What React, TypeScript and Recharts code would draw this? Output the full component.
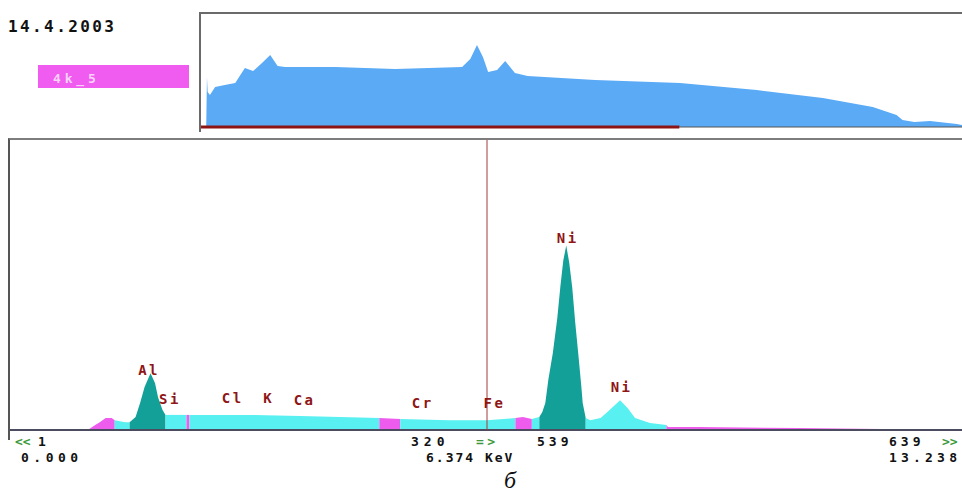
import { Area, ComposedChart, ReferenceDot, ReferenceLine, XAxis, YAxis } from "recharts";

// main window: channels 1..639, counts
const MAIN_CHANNELS = [
  1, 53, 58, 61, 65, 69, 71, 78, 81, 85, 88, 91, 95, 98, 100, 103, 105, 119, 121, 162,
  195, 248, 262, 295, 320, 339, 344, 350, 355, 357, 359, 361, 364, 367, 369, 371, 373, 375, 377, 379,
  381, 383, 384, 386, 389, 396, 402, 409, 414, 419, 429, 440, 441, 462, 529, 596, 639,
];
const MAIN_COUNTS = [
  0, 0, 17, 27, 41, 41, 34, 27, 27, 45, 93, 148, 196, 161, 113, 69, 52, 52, 52, 52,
  48, 41, 38, 34, 34, 41, 45, 38, 45, 62, 93, 172, 265, 385, 491, 584, 636, 577, 491, 371,
  265, 155, 93, 41, 34, 41, 69, 103, 76, 41, 24, 17, 10, 10, 7, 3, 3,
];

// colour windows along the spectrum (edges in channels)
const WINDOW_EDGES = [53, 71, 81, 105, 119, 121, 248, 262, 339, 350, 355, 386, 440, 639];
const WINDOW_KINDS = [
  "marker", "background", "peak", "background", "marker", "background", "marker",
  "background", "marker", "background", "peak", "background", "marker",
];

const ELEMENTS = ["Al", "Si", "Cl", "K", "Ca", "Cr", "Fe", "Ni", "Ni"];
const ELEMENT_CHANNELS = [94, 108, 150, 174, 198, 277, 325, 374, 410];
const ELEMENT_LEVELS = [207, 107, 110, 110, 103, 93, 93, 662, 148];

const CURSOR_CHANNEL = 320;

// overview strip: channels 1..1024
const OVERVIEW_CHANNELS = [
  1, 8, 9, 10, 13, 20, 33, 47, 60, 71, 83, 94, 104, 114, 181, 262, 352, 363, 372, 380,
  387, 399, 410, 423, 440, 531, 645, 748, 837, 904, 936, 944, 960, 981, 1017, 1024,
];
const OVERVIEW_COUNTS = [
  0, 0, 50, 35, 32, 40, 42, 44, 59, 56, 64, 72, 61, 60, 60, 58, 60, 68, 82, 70,
  55, 57, 66, 54, 51, 47, 44, 37, 29, 20, 12, 7, 5, 6, 3, 2,
];
const VIEW_END = 644;

const KIND_COLORS: Record<string, string> = {
  background: "#58f0f0",
  peak: "#12a098",
  marker: "#ee5cee",
};

const MONO = "'DejaVu Sans Mono', monospace";

const mainData = MAIN_CHANNELS.map((ch, i) => {
  const row: Record<string, number | null> = { ch };
  WINDOW_KINDS.forEach((_, j) => {
    row[`w${j}`] = ch >= WINDOW_EDGES[j] && ch <= WINDOW_EDGES[j + 1] ? MAIN_COUNTS[i] : null;
  });
  return row;
});

const overviewData = OVERVIEW_CHANNELS.map((ch, i) => ({ ch, count: OVERVIEW_COUNTS[i] }));

function Txt({ x, y, text, size = 13, color = "#111", spacing = 3.8 }: {
  x: number; y: number; text: string; size?: number; color?: string; spacing?: number;
}) {
  return (
    <div
      style={{
        position: "absolute", left: x, top: y, fontFamily: MONO, fontWeight: "bold",
        fontSize: size, lineHeight: `${size - 2}px`, letterSpacing: spacing, color, whiteSpace: "pre",
      }}
    >
      {text}
    </div>
  );
}

export default function App() {
  return (
    <div style={{ position: "fixed", left: 0, top: 0, width: 962, height: 493, overflow: "hidden", background: "#fff" }}>
      <Txt x={8} y={20} text="14.4.2003" size={16} spacing={2.4} />
      <div style={{ position: "absolute", left: 38, top: 65, width: 151, height: 23, background: "#ef5cef" }} />
      <Txt x={53} y={73} text="4k_5" size={13} color="#fbd0fb" spacing={3.8} />

      <div style={{ position: "absolute", left: 199, top: 12, borderLeft: "2px solid #6a6a6a", borderTop: "2px solid #6a6a6a" }}>
        <ComposedChart width={761} height={118} data={overviewData} margin={{ top: 0, right: 0, bottom: 5, left: 0 }}>
          <XAxis dataKey="ch" type="number" domain={[1, 1024]} hide allowDataOverflow />
          <YAxis type="number" domain={[0, 113]} hide allowDataOverflow />
          <Area dataKey="count" type="linear" stroke="none" fill="#5aaaf6" fillOpacity={1} isAnimationActive={false} dot={false} activeDot={false} />
          <ReferenceLine y={0} stroke="#555" strokeWidth={1} />
          <ReferenceLine segment={[{ x: 1, y: 0 }, { x: VIEW_END, y: 0 }]} stroke="#8c1414" strokeWidth={3} />
        </ComposedChart>
      </div>

      <div style={{ position: "absolute", left: 8, top: 138, borderLeft: "2px solid #555", borderTop: "2px solid #7d7d7d" }}>
        <ComposedChart width={954} height={300} data={mainData} margin={{ top: 0, right: 0, bottom: 10, left: 0 }}>
          <XAxis dataKey="ch" type="number" domain={[1, 639]} hide allowDataOverflow />
          <YAxis type="number" domain={[0, 1000]} hide allowDataOverflow />
          {WINDOW_KINDS.map((kind, j) => (
            <Area
              key={j}
              dataKey={`w${j}`}
              type="linear"
              stroke="none"
              fill={KIND_COLORS[kind]}
              fillOpacity={1}
              isAnimationActive={false}
              dot={false}
              activeDot={false}
            />
          ))}
          <ReferenceLine y={0} stroke="#4c4c60" strokeWidth={2} />
          <ReferenceLine x={CURSOR_CHANNEL} stroke="#a33a3a" strokeWidth={1} />
          {ELEMENTS.map((el, i) => (
            <ReferenceDot
              key={i}
              x={ELEMENT_CHANNELS[i]}
              y={ELEMENT_LEVELS[i]}
              r={0}
              fill="none"
              stroke="none"
              label={{
                value: el, position: "center", fill: "#8e1616", fontSize: 14,
                fontWeight: "bold", fontFamily: MONO, letterSpacing: 2.5,
              }}
            />
          ))}
        </ComposedChart>
      </div>

      <Txt x={15} y={436} text="<<" color="#3c9a3c" spacing={0} />
      <Txt x={38} y={436} text="1" />
      <Txt x={21} y={452} text="0.000" spacing={4.5} />
      <Txt x={411} y={436} text="320" spacing={5} />
      <Txt x={476} y={436} text="=>" color="#3c9a3c" spacing={3.5} />
      <Txt x={537} y={436} text="539" spacing={4} />
      <Txt x={426} y={452} text="6.374 KeV" spacing={2} />
      <Txt x={889} y={436} text="639" spacing={4} />
      <Txt x={942} y={436} text=">>" color="#3c9a3c" spacing={0} />
      <Txt x={889} y={452} text="13.238" spacing={4.2} />
      <div
        style={{
          position: "absolute", left: 490, top: 469, width: 40, textAlign: "center",
          fontFamily: "'Liberation Serif', serif", fontStyle: "italic", fontSize: 24, lineHeight: "22px", color: "#111",
        }}
      >
        б
      </div>
    </div>
  );
}
